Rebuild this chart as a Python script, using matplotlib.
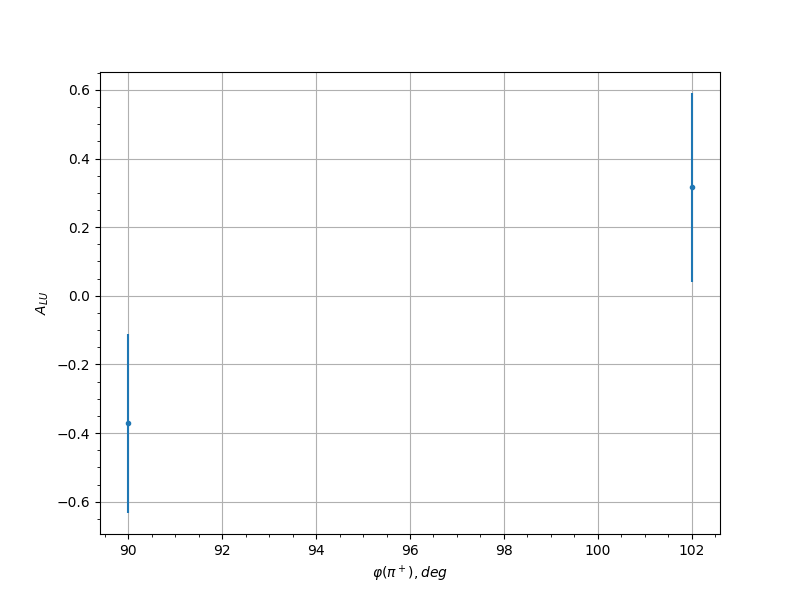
import matplotlib
matplotlib.use('Agg')
import matplotlib.pyplot as plt
import numpy as np

# phi bins and beam-spin asymmetry values
phi = [90, 102]
a_lu = [-0.372, 0.316]
a_lu_err = [0.261, 0.275]

fig, ax = plt.subplots(figsize=(8, 6), dpi=100)

ax.errorbar(phi, a_lu, yerr=a_lu_err, fmt='o', markersize=3, color='tab:blue')

ax.set_xlabel(r'$\varphi(\pi^+), deg$')
ax.set_ylabel(r'$A_{LU}$')
ax.minorticks_on()
ax.grid(True, which='major')

plt.savefig('out.png', dpi=100)
